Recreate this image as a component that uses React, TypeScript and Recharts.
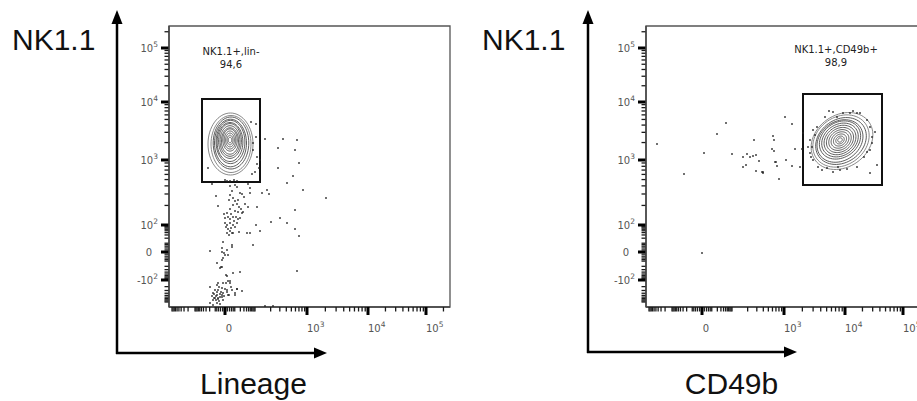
import React from "react";
import { ScatterChart, Scatter, XAxis, YAxis, ReferenceArea, ReferenceDot, ReferenceLine } from "recharts";

// Both plots use a biexponential display, stored here as display channels 0..281
const CH_MAX = 281;

// labelled major ticks (channel position + label)
const yMajorPos = [27, 55, 82, 147, 205, 259];
const yMajorText = [["-10", "2"], ["0", ""], ["10", "2"], ["10", "3"], ["10", "4"], ["10", "5"]];
const xMajorPos = [56, 138, 199, 257];
const xMajorText = [["0", ""], ["10", "3"], ["10", "4"], ["10", "5"]];

// decade anchors used for the unlabelled minor ticks
const yZero = 55;
const yPosDecades = [82, 147, 205, 259, 313];
const yNegDecades = [27, 5];
const xZero = 56;
const xPosDecades = [86, 138, 199, 257, 315];
const xNegDecades = [26, 3];

// events, NK1.1 vs Lineage  [x, y] in display channels
const lineageEvents = [
  [43, 123], [61, 121], [66, 122], [68, 120], [79, 123], [81, 119], [93, 114], [98, 117], [100, 113],
  [118, 124], [134, 117], [157, 109], [47, 111], [61, 112], [64, 109], [71, 114], [73, 113], [81, 114],
  [69, 107], [60, 107], [49, 101], [64, 102], [68, 103], [70, 100], [76, 103], [79, 100], [61, 98],
  [66, 96], [69, 95], [74, 95], [73, 94], [58, 94], [56, 89], [59, 90], [61, 88], [64, 90], [67, 90],
  [69, 88], [71, 89], [56, 84], [58, 82], [61, 84], [64, 82], [66, 80], [59, 78], [61, 76], [63, 74],
  [58, 74], [60, 72], [64, 74], [70, 75], [78, 74], [81, 74], [88, 100], [87, 82], [91, 76], [102, 85],
  [111, 89], [118, 84], [126, 97], [126, 78], [130, 71], [84, 62], [54, 65], [63, 62], [63, 60], [58, 57],
  [53, 59], [53, 55], [56, 52], [54, 49], [53, 47], [41, 56], [48, 44], [51, 39], [53, 40], [71, 35],
  [64, 34], [128, 36], [58, 31], [49, 24], [54, 24], [59, 26], [61, 24], [53, 19], [49, 17], [58, 17],
  [68, 18], [73, 16], [41, 20], [44, 14], [48, 12], [51, 10], [46, 9], [49, 9], [53, 12], [44, 7],
  [54, 7], [60, 12], [66, 12], [48, 4], [51, 3], [44, 2], [96, 1], [104, 1],
  [96, 168], [114, 168], [128, 167], [109, 159], [126, 157], [130, 144], [109, 139], [124, 131],
  [87, 183], [87, 170], [84, 164], [84, 157], [88, 150], [91, 147], [88, 143], [90, 139], [86, 135],
  [83, 133], [61, 126], [65, 127], [56, 127], [39, 139], [82, 185], [58, 126], [68, 126],
  [45, 13], [47, 11], [49, 8], [47, 7], [51, 13], [48, 15], [45, 9], [50, 6], [53, 10], [54, 14],
  [56, 18], [58, 15], [59, 12], [63, 17], [66, 14], [68, 18], [41, 4], [48, 22], [57, 24], [61, 26],
  [57, 32], [52, 40], [55, 54], [59, 52], [62, 93], [65, 86], [57, 80], [68, 84], [62, 79], [55, 93],
  [72, 98], [66, 106], [75, 110], [63, 116], [52, 15], [46, 17], [50, 20], [55, 11], [43, 11], [62, 20],
];

// events, NK1.1 vs CD49b
const cd49bEvents = [
  [11, 163], [80, 184], [71, 173], [58, 154], [86, 153], [97, 150], [101, 153], [104, 150], [107, 151],
  [110, 152], [108, 167], [113, 146], [97, 140], [100, 142], [110, 136], [116, 135], [117, 134],
  [127, 171], [128, 167], [126, 158], [128, 156], [129, 145], [131, 141], [38, 133], [133, 128], [56, 54],
  [139, 190], [146, 183], [157, 174], [149, 158], [156, 158], [140, 147], [130, 145], [146, 141],
  [117, 135], [154, 140],
  [187, 195], [197, 194], [211, 194], [214, 194], [221, 187], [224, 180], [229, 175], [226, 164],
  [224, 157], [221, 155], [231, 142], [224, 134], [211, 140], [201, 138], [194, 137], [187, 135],
  [181, 139], [176, 137], [167, 147], [164, 154], [162, 160], [164, 167], [167, 177], [171, 180],
  [179, 190], [191, 190], [204, 194], [192, 140], [172, 140], [166, 160], [218, 150], [226, 170],
  [183, 196], [207, 196], [169, 172], [165, 150],
];

// contour levels: [cx, cy, rx, ry, tilt deg]
const lineageContours = [
  [61.5, 163, 22.5, 31, 0], [62, 163, 20, 28.5, 0], [62, 164, 17.8, 26, 0], [61.5, 164, 16, 23.8, 0],
  [61.5, 165, 14.4, 21.6, 0], [61, 165, 12.9, 19.5, 0], [61, 166, 11.4, 17.4, 0], [61, 166, 10, 15.3, 0],
  [61, 166, 8.6, 13.2, 0], [61, 167, 7.2, 11.1, 0], [61, 167, 5.8, 9, 0], [61, 167, 4.4, 6.9, 0],
  [61, 167, 3, 4.8, 0], [61, 167, 1.7, 2.8, 0],
];
const cd49bContours = [
  [196, 166, 33, 26, 35], [195, 166, 30, 24, 35], [195, 166, 27, 21.5, 35], [194, 166, 24.5, 19.5, 35],
  [194, 167, 22, 17.5, 35], [194, 167, 19.5, 15.5, 35], [194, 167, 17, 13.5, 35], [194, 167, 14.5, 11.5, 35],
  [194, 167, 12, 9.5, 35], [194, 167, 9.5, 7.5, 35], [194, 167, 7, 5.5, 35], [194, 167, 4.5, 3.6, 35],
  [194, 167, 2.4, 2, 35],
];

// gates [x1, x2, y1, y2] and their labels
const lineageGate = [33, 91, 125, 208];
const cd49bGate = [157, 236, 122, 213];
const lineageGateLabel = ["NK1.1+,lin-", "94,6"];
const cd49bGateLabel = ["NK1.1+,CD49b+", "98,9"];

const LOG_STEPS = [2, 3, 4, 5, 6, 7, 8, 9].map((m) => Math.log10(m));
const LIN_STEPS = [2, 4, 6, 8, 10, 20, 30, 40, 50, 60, 70, 80, 90];

function minorTicks(zero: number, pos: number[], neg: number[]) {
  const out: number[] = [];
  for (let i = 0; i < pos.length - 1; i++) LOG_STEPS.forEach((l) => out.push(pos[i] + l * (pos[i + 1] - pos[i])));
  for (let i = 0; i < neg.length - 1; i++) LOG_STEPS.forEach((l) => out.push(neg[i] + l * (neg[i + 1] - neg[i])));
  const up = pos[0] - zero;
  const down = zero - neg[0];
  LIN_STEPS.forEach((v) => {
    const f = Math.asinh(v / 8) / Math.asinh(100 / 8);
    out.push(zero + f * up, zero - f * down);
  });
  out.push(pos[0], neg[0], neg[1]);
  return out.filter((t) => t > 0.5 && t < CH_MAX - 0.5);
}

const yMinor = minorTicks(yZero, yPosDecades, yNegDecades).filter((t) => !yMajorPos.includes(t));
const xMinor = minorTicks(xZero, xPosDecades, xNegDecades).filter((t) => !xMajorPos.includes(t));
const yTicks = [...yMajorPos, ...yMinor];
const xTicks = [...xMajorPos, ...xMinor];

const ring = ([cx, cy, rx, ry, deg]: number[]) => {
  const a = (deg * Math.PI) / 180;
  const pts = [];
  for (let i = 0; i <= 64; i++) {
    const t = (i / 64) * Math.PI * 2;
    const ex = rx * Math.cos(t);
    const ey = ry * Math.sin(t);
    pts.push({ x: cx + ex * Math.cos(a) - ey * Math.sin(a), y: cy + ex * Math.sin(a) + ey * Math.cos(a) });
  }
  return pts;
};

const toPts = (arr: number[][]) => arr.map(([x, y]) => ({ x, y }));

const TICK_FONT = "'DejaVu Sans', sans-serif";
const AXIS_COLOR = "#444";

const YTick = (props: any) => {
  const { x, y, payload } = props;
  const idx = yMajorPos.indexOf(payload.value);
  if (idx < 0) return <g />;
  const [base, exp] = yMajorText[idx];
  return (
    <text x={exp ? x - 11 : x - 17} y={y + 4} textAnchor="end" fontSize={10} fontFamily={TICK_FONT} fill="#555">
      {base}
      {exp && <tspan dy={-5} fontSize={7.5}>{exp}</tspan>}
    </text>
  );
};

const XTick = (props: any) => {
  const { x, y, payload } = props;
  const idx = xMajorPos.indexOf(payload.value);
  if (idx < 0) return <line x1={x} x2={x} y1={y} y2={y + 4.5} stroke="#1a1a1a" strokeWidth={1.3} />;
  const [base, exp] = xMajorText[idx];
  return (
    <g>
      <line x1={x} x2={x} y1={y} y2={y + 8} stroke="#000" strokeWidth={3} />
      <text x={exp ? x : x + 4} y={y + 25} textAnchor={exp ? "start" : "middle"} fontSize={10} fontFamily={TICK_FONT} fill="#555">
        {base}
        {exp && <tspan dy={-5} fontSize={7.5}>{exp}</tspan>}
      </text>
    </g>
  );
};

const eventDot = (p: any) => <rect x={p.cx - 0.8} y={p.cy - 0.8} width={1.6} height={1.6} fill="#222" />;
const noDot = () => <g />;

const gateText = (lines: string[]) => (props: any) => {
  const vb = props.viewBox || {};
  const cx = (vb.x ?? 0) + (vb.width ?? 0) / 2;
  const cy = (vb.y ?? 0) + (vb.height ?? 0) / 2;
  return (
    <g>
      <text x={cx} y={cy + 3} textAnchor="middle" fontSize={10} fontFamily={TICK_FONT} fill="#222">{lines[0]}</text>
      <text x={cx} y={cy + 16} textAnchor="middle" fontSize={10} fontFamily={TICK_FONT} fill="#222">{lines[1]}</text>
    </g>
  );
};

function DotPlot({ events, contours, gate, gateLabel, labelAt }: any) {
  return (
    <ScatterChart width={360} height={345} margin={{ top: 26, right: 10, bottom: 8, left: 0 }}>
      <XAxis type="number" dataKey="x" domain={[0, CH_MAX]} ticks={xTicks} interval={0} tickSize={0} tickMargin={0}
        tickLine={false} axisLine={{ stroke: AXIS_COLOR, strokeWidth: 1.5 }} tick={XTick} height={30} allowDataOverflow />
      <YAxis type="number" dataKey="y" domain={[0, CH_MAX]} ticks={yTicks} interval={0} tickSize={0} tickMargin={0}
        tickLine={false} axisLine={{ stroke: AXIS_COLOR, strokeWidth: 1.5 }} tick={YTick} width={69} allowDataOverflow />
      <ReferenceArea x1={0} x2={CH_MAX} y1={0} y2={CH_MAX} fill="none" stroke="#555" strokeWidth={1.3} ifOverflow="visible" />
      {/* y tick marks, one display channel per pixel */}
      {yMinor.map((t) => (
        <ReferenceLine key={`ym${t}`} segment={[{ x: -4.5, y: t }, { x: 0, y: t }]} stroke="#1a1a1a" strokeWidth={1.3} ifOverflow="visible" />
      ))}
      {yMajorPos.map((t) => (
        <ReferenceLine key={`yM${t}`} segment={[{ x: -8, y: t }, { x: 0, y: t }]} stroke="#000" strokeWidth={3} ifOverflow="visible" />
      ))}
      {contours.map((c: number[], i: number) => (
        <Scatter key={i} data={ring(c)} line={{ stroke: i < 2 ? "#7a7a7a" : "#4a4a4a", strokeWidth: 0.9 }}
          lineJointType="linear" shape={noDot} legendType="none" isAnimationActive={false} />
      ))}
      <Scatter data={toPts(events)} shape={eventDot} isAnimationActive={false} />
      <ReferenceArea x1={gate[0]} x2={gate[1]} y1={gate[2]} y2={gate[3]} fill="none" stroke="#111" strokeWidth={2} />
      <ReferenceDot x={labelAt[0]} y={labelAt[1]} r={1} fill="none" stroke="none" label={{ content: gateText(gateLabel) }} />
    </ScatterChart>
  );
}

const BIG_FONT = "'Liberation Sans', Arial, sans-serif";

export default function App() {
  return (
    <div style={{ position: "relative", width: 917, height: 401, overflow: "hidden", background: "#fff" }}>
      <style>{"body{margin:0}"}</style>
      <div style={{ position: "absolute", left: 100, top: 0 }}>
        <DotPlot events={lineageEvents} contours={lineageContours} gate={lineageGate} gateLabel={lineageGateLabel} labelAt={[62, 255]} />
      </div>
      <div style={{ position: "absolute", left: 577, top: 0 }}>
        <DotPlot events={cd49bEvents} contours={cd49bContours} gate={cd49bGate} gateLabel={cd49bGateLabel} labelAt={[190, 257]} />
      </div>
      <svg width={917} height={401} style={{ position: "absolute", left: 0, top: 0, pointerEvents: "none" }}>
        <g stroke="#000" strokeWidth={2.5}>
          <line x1={117} y1={354} x2={117} y2={22} />
          <line x1={116} y1={353} x2={316} y2={353} />
          <line x1={588} y1={353} x2={588} y2={22} />
          <line x1={587} y1={352} x2={786} y2={352} />
        </g>
        <g fill="#000">
          <polygon points="111.5,24 122.5,24 117,10" />
          <polygon points="314,347.5 314,358.5 327,353" />
          <polygon points="582.5,24 593.5,24 588,10" />
          <polygon points="784,346.5 784,357.5 797,352" />
        </g>
        <g fontFamily={BIG_FONT} fontSize={30} fill="#111">
          <text x={12} y={50}>NK1.1</text>
          <text x={482} y={50}>NK1.1</text>
          <text x={253.5} y={394} textAnchor="middle">Lineage</text>
          <text x={731.5} y={394} textAnchor="middle">CD49b</text>
        </g>
      </svg>
    </div>
  );
}
